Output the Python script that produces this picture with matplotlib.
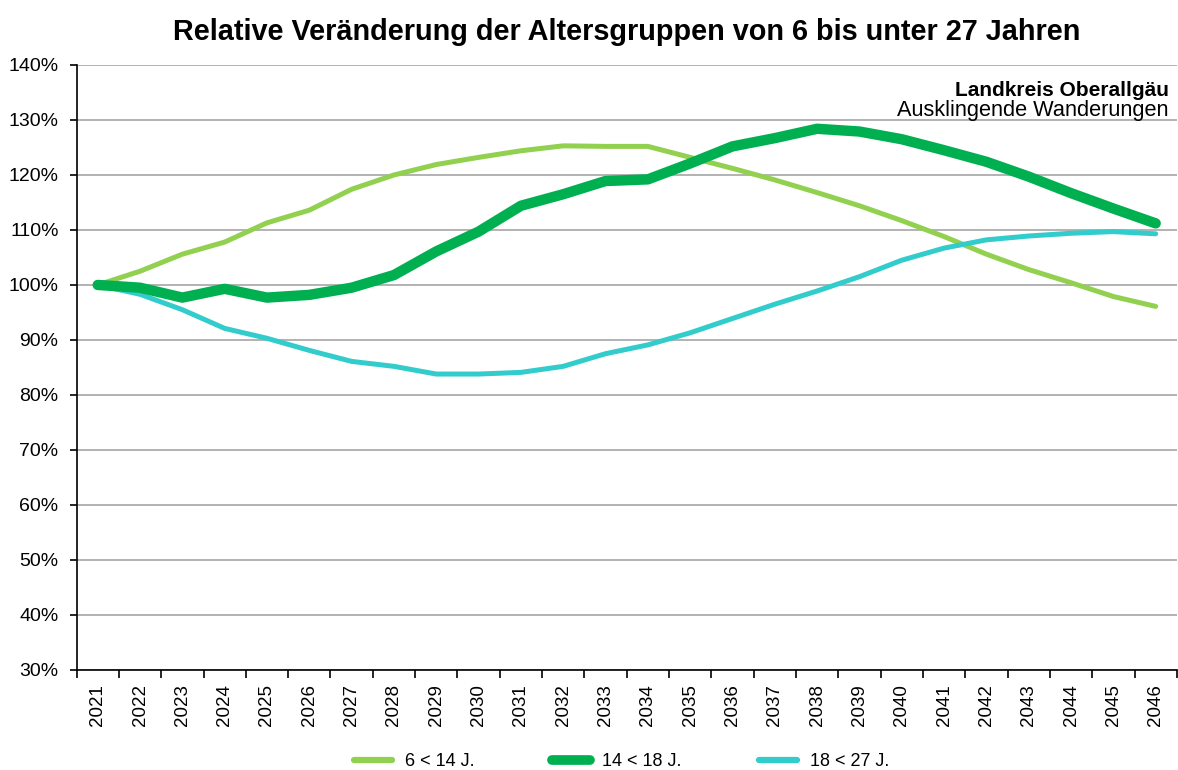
import matplotlib.pyplot as plt
import numpy as np
from matplotlib.ticker import FuncFormatter

plt.rcParams['font.family'] = ['Liberation Sans', 'DejaVu Sans']

years = [str(y) for y in range(2021, 2047)]

# Index 2021 = 100 %
age_6_14 = [100.0, 102.5, 105.6, 107.8, 111.3, 113.6, 117.4, 120.0, 121.9, 123.2,
            124.4, 125.3, 125.2, 125.2, 123.2, 121.2, 119.1, 116.8, 114.4, 111.7,
            108.8, 105.6, 102.8, 100.4, 97.9, 96.1]
age_14_18 = [100.0, 99.5, 97.7, 99.3, 97.7, 98.2, 99.5, 101.8, 106.1, 109.7,
             114.4, 116.5, 118.9, 119.2, 122.1, 125.2, 126.7, 128.4, 127.9, 126.5,
             124.5, 122.4, 119.7, 116.7, 113.9, 111.2]
age_18_27 = [100.0, 98.3, 95.5, 92.1, 90.3, 88.1, 86.1, 85.2, 83.8, 83.8,
             84.1, 85.2, 87.5, 89.1, 91.3, 93.9, 96.5, 98.9, 101.5, 104.5,
             106.7, 108.2, 108.9, 109.4, 109.7, 109.3]

labels = ['6 < 14 J.', '14 < 18 J.', '18 < 27 J.']
colors = ['#92D050', '#00B050', '#33CCCC']

fig = plt.figure(figsize=(11.78, 7.70), dpi=100)
ax = fig.add_axes([0.065, 0.13, 0.934, 0.7856])

x = np.arange(len(years))
ax.plot(x, age_6_14, color=colors[0], lw=3.6, solid_capstyle='round', label=labels[0], zorder=3)
ax.plot(x, age_14_18, color=colors[1], lw=7.5, solid_capstyle='round', label=labels[1], zorder=4)
ax.plot(x, age_18_27, color=colors[2], lw=3.6, solid_capstyle='round', label=labels[2], zorder=3)

ax.set_xlim(-0.5, len(years) - 0.5)
ax.set_ylim(30, 140)
ax.set_yticks(np.arange(30, 141, 10))
ax.yaxis.set_major_formatter(FuncFormatter(lambda v, p: f'{v:.0f}%'))
ax.grid(axis='y', color='#a6a6a6', lw=1.2, zorder=1)
ax.set_axisbelow(True)

# Jahre mittig zwischen den Teilstrichen
ax.set_xticks(np.arange(len(years) + 1) - 0.5)
ax.set_xticklabels([])
ax.set_xticks(x, minor=True)
ax.set_xticklabels(years, minor=True, rotation=90, fontsize=13.5)
ax.tick_params(axis='x', which='minor', length=0, pad=10)
ax.tick_params(axis='x', which='major', length=6, width=1.2, direction='out')
ax.tick_params(axis='y', length=5, width=1.2, labelsize=14, pad=8)

for s in ['top', 'right']:
    ax.spines[s].set_visible(False)
for s in ['left', 'bottom']:
    ax.spines[s].set_linewidth(1.2)

fig.text(0.532, 0.959, 'Relative Veränderung der Altersgruppen von 6 bis unter 27 Jahren',
         ha='center', va='center', fontsize=20.8, fontweight='bold')
ax.text(0.9927, 0.957, 'Landkreis Oberallgäu', transform=ax.transAxes,
        ha='right', va='center', fontsize=15, fontweight='bold')
ax.text(0.9927, 0.924, 'Ausklingende Wanderungen', transform=ax.transAxes,
        ha='right', va='center', fontsize=15.7)

leg = fig.legend(loc='center', bbox_to_anchor=(0.5276, 0.011), ncol=3, frameon=False,
                 fontsize=13, handlelength=2.1, handletextpad=0.7, columnspacing=4.3)
for h, w in zip(leg.get_lines(), [4.5, 7, 4.5]):
    h.set_linewidth(w)

fig.savefig('out.png', dpi=100)
